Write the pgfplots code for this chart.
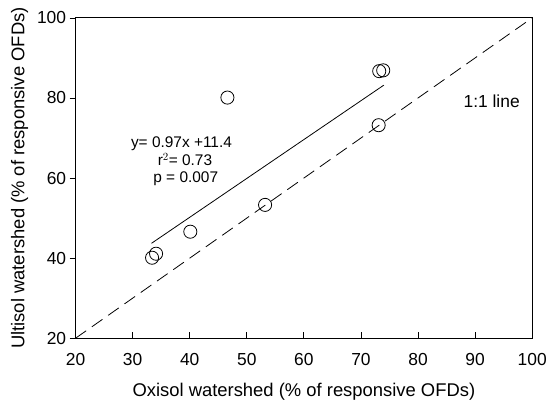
\documentclass[border=0pt]{standalone}
\usepackage{fontspec}
\setmainfont{Liberation Sans}
\usepackage{pgfplots}
\pgfplotsset{compat=1.18}
\begin{document}
\begin{tikzpicture}[x=1pt,y=1pt]
\begin{axis}[
  scale only axis,
  width=459pt, height=322pt,
  xmin=20, xmax=100, ymin=20, ymax=100,
  xtick={20,30,...,100}, ytick={20,40,...,100},
  tick label style={font=\fontsize{17.5}{20}\selectfont},
  xticklabel style={yshift=-12pt},
  /pgf/number format/assume math mode=true,
  xtick pos=bottom, ytick pos=left,
  x tick style={black, line width=0.8pt},
  y tick style={black, line width=0.8pt},
  xtick align=inside, ytick align=outside,
  major tick length=6pt,
  axis line style={line width=0.9pt},
  xlabel={Oxisol watershed (\% of responsive OFDs)},
  ylabel={Ultisol watershed (\% of responsive OFDs)},
  label style={font=\fontsize{18.5}{21}\selectfont},
  xlabel style={yshift=-10pt},
  ylabel style={yshift=2pt},
  clip=false,
]
% 1:1 line
\addplot[black, line width=0.8pt, dash pattern=on 13pt off 7pt, forget plot] coordinates {(20,20) (100,100)};
% regression line
\addplot[black, line width=0.8pt, forget plot] coordinates {(33.3,43.7) (74.0,83.2)};
% data points
\addplot[only marks, mark=o, mark size=6.6pt, mark options={black, line width=0.8pt}] coordinates {
(33.4,40.1) (34.1,41.1) (40.1,46.6) (46.6,80.1) (53.2,53.3) (73.2,86.7) (73.9,86.9) (73.1,73.2)
};
\node[font=\fontsize{15.5}{17}\selectfont, anchor=base, inner sep=0pt] at (axis cs:38.55,67.7) {y= 0.97x +11.4};
\node[font=\fontsize{15.5}{17}\selectfont, anchor=base, inner sep=0pt] at (axis cs:39.16,63.06) {r$^{2}$= 0.73};
\node[font=\fontsize{15.5}{17}\selectfont, anchor=base, inner sep=0pt] at (axis cs:39.3,58.9) {p = 0.007};
\node[font=\fontsize{17.5}{19}\selectfont, anchor=base, inner sep=0pt] at (axis cs:92.9,77.6) {1:1 line};
\end{axis}
\path[use as bounding box] (current axis.south west) ++(-76pt,-60pt) rectangle ([xshift=15pt,yshift=18pt]current axis.north east);
\end{tikzpicture}
\end{document}
